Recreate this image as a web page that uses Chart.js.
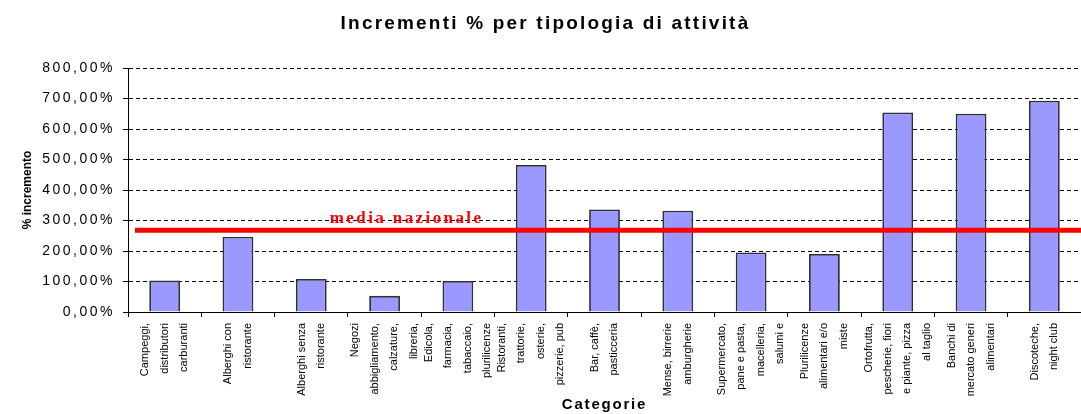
<!DOCTYPE html>
<html>
<head>
<meta charset="utf-8">
<title>Incrementi % per tipologia di attività</title>
<script src="https://cdn.jsdelivr.net/npm/chart.js@4.4.0/dist/chart.umd.min.js"></script>
<style>
    html, body { margin: 0; padding: 0; background: #ffffff; }
    #incrementiChart { display: block; }
</style>
</head>
<body>
<canvas id="incrementiChart" width="1081" height="414"></canvas>
<script>
/* ========================================
   Incrementi % per tipologia di attività
   ======================================== */

const categorie = [
    ['Campeggi,', 'distributori', 'carburanti'],
    ['Alberghi con', 'ristorante'],
    ['Alberghi senza', 'ristorante'],
    ['Negozi', 'abbigliamento,', 'calzature,', 'libreria,'],
    ['Edicola,', 'farmacia,', 'tabaccaio,', 'plurilicenze'],
    ['Ristoranti,', 'trattorie,', 'osterie,', 'pizzerie, pub'],
    ['Bar, caffè,', 'pasticceria'],
    ['Mense, birrerie', 'amburgherie'],
    ['Supermercato,', 'pane e pasta,', 'macelleria,', 'salumi e'],
    ['Plurilicenze', 'alimentari e/o', 'miste'],
    ['Ortofrutta,', 'pescherie, fiori', 'e piante, pizza', 'al taglio'],
    ['Banchi di', 'mercato generi', 'alimentari'],
    ['Discoteche,', 'night club']
];
const incrementi = [103, 247, 108, 53, 102, 482, 336, 332, 195, 190, 654, 650, 693];
const yTicks = [0, 100, 200, 300, 400, 500, 600, 700, 800];
const mediaNazionale = 268;
const mediaLabel = 'media nazionale';

const FONT = '"Liberation Sans", Arial, sans-serif';

// canvas letterSpacing for one draw method (the original is widely spaced)
function withSpacing(obj, method, spacing) {
    if (!obj || obj['_spaced_' + method]) return;
    const original = obj[method];
    obj[method] = function() {
        const ctx = this.ctx;
        const prev = ctx.letterSpacing;
        ctx.letterSpacing = spacing;
        const out = original.apply(this, arguments);
        ctx.letterSpacing = prev;
        return out;
    };
    obj['_spaced_' + method] = true;
}

// rotated multi-line labels: center the lines on the tick
function centerMultiline(scale) {
    if (!scale || scale._centered) return;
    const original = scale._computeLabelItems;
    scale._computeLabelItems = function(chartArea) {
        const items = original.call(this, chartArea);
        items.forEach(item => {
            const n = Array.isArray(item.label) ? item.label.length : 1;
            item.options.translation[0] -= (n - 1) * item.font.lineHeight / 2;
        });
        return items;
    };
    scale._labelItems = null;
    scale._centered = true;
}

const mediaPlugin = {
    id: 'mediaNazionale',
    beforeDraw(chart) {
        withSpacing(chart.titleBlock, 'draw', '2.2px');
        withSpacing(chart.scales.y, 'drawLabels', '2.5px');
        withSpacing(chart.scales.x, 'drawTitle', '1.8px');
        centerMultiline(chart.scales.x);
    },
    afterDatasetsDraw(chart) {
        const { ctx, chartArea, scales } = chart;
        const y = scales.y.getPixelForValue(mediaNazionale);
        ctx.save();
        ctx.strokeStyle = '#ff0000';
        ctx.lineWidth = 5;
        ctx.beginPath();
        ctx.moveTo(chartArea.left + 7, y);
        ctx.lineTo(chart.width, y);
        ctx.stroke();

        ctx.fillStyle = '#ff0000';
        ctx.font = 'bold 17px "Liberation Serif", "Times New Roman", serif';
        ctx.letterSpacing = '2.4px';
        ctx.textAlign = 'center';
        ctx.textBaseline = 'alphabetic';
        ctx.fillText(mediaLabel, scales.x.getPixelForValue(3.3), y - 7);
        ctx.restore();
    }
};

new Chart(document.getElementById('incrementiChart'), {
    type: 'bar',
    data: {
        labels: categorie,
        datasets: [{
            label: '% incremento',
            data: incrementi,
            backgroundColor: '#9999ff',
            borderColor: '#2e2e3a',
            borderWidth: 1.8,
            barPercentage: 0.42,
            categoryPercentage: 1
        }]
    },
    plugins: [mediaPlugin],
    options: {
        responsive: false,
        animation: false,
        devicePixelRatio: 1,
        layout: {
            padding: { left: 0, right: -10, top: 0, bottom: 0 }
        },
        plugins: {
            legend: { display: false },
            tooltip: { enabled: false },
            title: {
                display: true,
                text: 'Incrementi % per tipologia di attività',
                color: '#000000',
                font: { family: FONT, size: 19, weight: 'bold', lineHeight: 1.2 },
                padding: { top: 12, bottom: 33.2 }
            }
        },
        scales: {
            x: {
                offset: true,
                grid: {
                    display: true,
                    offset: true,
                    drawOnChartArea: false,
                    drawTicks: true,
                    tickLength: 5,
                    color: '#000000'
                },
                border: { display: true, color: '#000000', width: 1 },
                ticks: {
                    autoSkip: false,
                    minRotation: 90,
                    maxRotation: 90,
                    padding: 6,
                    color: '#000000',
                    font: { family: FONT, size: 11, lineHeight: 1.77 }
                },
                title: {
                    display: true,
                    text: 'Categorie',
                    color: '#000000',
                    font: { family: FONT, size: 15, weight: 'bold', lineHeight: 1.2 },
                    padding: { top: 2, bottom: 0 }
                },
                afterFit: function(scale) {
                    scale.height = 102;
                    scale.paddingLeft = 0;
                    scale.paddingRight = 0;
                }
            },
            y: {
                min: yTicks[0],
                max: yTicks[yTicks.length - 1],
                afterBuildTicks: function(scale) {
                    scale.ticks = yTicks.map(v => ({ value: v }));
                },
                grid: {
                    color: '#000000',
                    drawTicks: true,
                    tickLength: 5,
                    tickBorderDash: []
                },
                border: { display: true, color: '#000000', width: 1, dash: [4, 3] },
                ticks: {
                    padding: 8,
                    color: '#000000',
                    font: { family: FONT, size: 14 },
                    callback: function(value) {
                        return value.toFixed(2).replace('.', ',') + '%';
                    }
                },
                title: {
                    display: true,
                    text: '% incremento',
                    color: '#000000',
                    font: { family: FONT, size: 12, weight: 'bold', lineHeight: 1.2 },
                    padding: { top: 20, bottom: 0 }
                },
                afterFit: function(scale) {
                    scale.width = 128;
                }
            }
        }
    }
});
</script>
</body>
</html>
